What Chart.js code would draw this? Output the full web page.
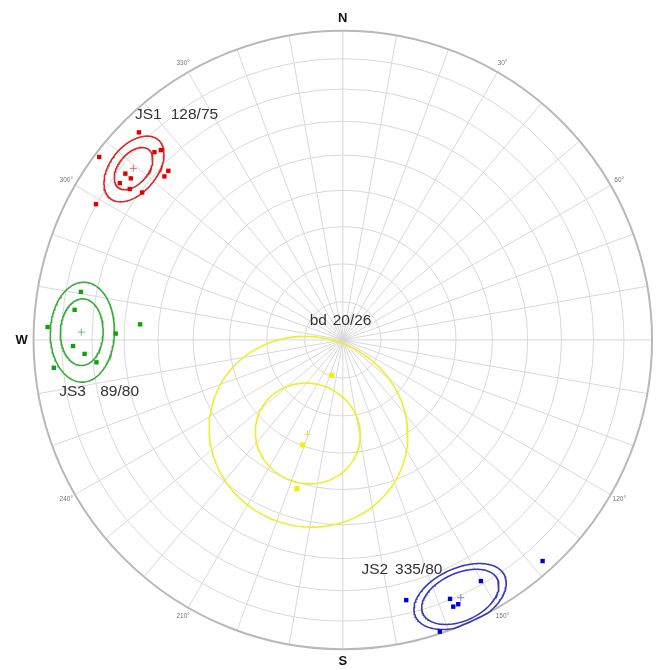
<!DOCTYPE html>
<html>
<head>
<meta charset="utf-8">
<script src="https://cdn.jsdelivr.net/npm/chart.js@4/dist/chart.umd.min.js"></script>
<style>
  html, body { margin: 0; padding: 0; background: #ffffff; }
  #wrap { width: 661px; height: 670px; }
</style>
</head>
<body>
<div id="wrap"><canvas id="net" width="661" height="670"></canvas></div>
<script>
// Joint poles, lower hemisphere, [trend°, plunge°]
const js1Poles = [[315.5, 6.6], [306.9, 1.7], [314.9, 15.1], [316.2, 16.1], [314.1, 22.5], [312.5, 22.8],
                  [307.4, 12.5], [307.3, 14.9], [305.1, 12.9], [305.3, 16.7], [306.3, 20.6], [298.8, 9.8]];
const js2Poles = [[137.9, 4.1], [150.2, 11.1], [166.3, 14.5], [157.5, 10.3], [156.4, 7.5], [157.5, 7.4], [161.6, 0.7]];
const js3Poles = [[280.4, 15.0], [276.4, 13.8], [272.5, 5.0], [274.4, 34.6], [271.6, 27.4], [268.7, 13.8],
                  [266.9, 17.5], [264.8, 21.1], [264.5, 6.8]];
const bdPoles  = [[197.4, 80.3], [200.9, 60.2], [197.2, 48.3]];

// Sets: names, mean plane (dip direction/dip), mean pole and confidence cones (inner, outer half-angle)
const setNames     = ['JS1', 'JS2', 'JS3', 'bd'];
const setPlanes    = ['128/75', '335/80', '89/80', '20/26'];
const meanPoles    = [[309.3, 13.5], [155.4, 9.2], [271.7, 16.5], [200.5, 63.4]];
const coneInner    = [5.0, 8.2, 7.0, 13.5];
const coneOuter    = [7.8, 9.8, 10.5, 25.7];

// Net grid: small circles of plunge, azimuth spokes, azimuth tick labels
const gridPlunges  = [10, 20, 30, 40, 50, 60, 70, 80];
const spokeAzimuths = Array.from({ length: 36 }, (_, i) => i * 10);
const tickAzimuths = [30, 60, 120, 150, 210, 240, 300, 330];
const cardinalNames = ['N', 'W', 'S'];
const cardinalAzimuths = [0, 270, 180];

// Colours per set
const pointColors   = ['#e00000', '#0000d0', '#10a010', '#f0f000'];
const coneColors    = ['#d42a2a', '#3a3ab8', '#3aaa3a', '#eeee30'];
const meanColors    = ['#e07070', '#8080d8', '#70b870', '#e0e060'];
const poleSets      = [js1Poles, js2Poles, js3Poles, bdPoles];

const rad = d => d * Math.PI / 180;
const deg = r => r * 180 / Math.PI;

// Lambert equal-area (Schmidt) projection, primitive radius 1
function project(trend, plunge) {
  const t = rad(trend);
  const r = Math.SQRT2 * Math.sin(rad(90 - plunge) / 2);
  return { x: r * Math.sin(t), y: r * Math.cos(t) };
}

// Outline of a small circle (cone) of half-angle alpha about an axis
function coneOutline(trend, plunge, alpha) {
  const t = rad(trend), p = rad(plunge), a = rad(alpha);
  const ax = [Math.cos(p) * Math.sin(t), Math.cos(p) * Math.cos(t), Math.sin(p)];
  const u = [Math.sin(p) * Math.sin(t), Math.sin(p) * Math.cos(t), -Math.cos(p)];
  const w = [Math.cos(t), -Math.sin(t), 0];
  const out = [];
  for (let i = 0; i <= 180; i++) {
    const f = 2 * Math.PI * i / 180;
    const v = [0, 1, 2].map(k => ax[k] * Math.cos(a) + (u[k] * Math.cos(f) + w[k] * Math.sin(f)) * Math.sin(a));
    if (v[2] < 0) v[2] = 0;
    const n = Math.hypot(v[0], v[1], v[2]);
    const pl = deg(Math.asin(v[2] / n));
    const tr = deg(Math.atan2(v[0], v[1]));
    out.push(project(tr, pl));
  }
  return out;
}

const datasets = [];
// poles on top
poleSets.forEach((set, i) => {
  datasets.push({
    label: setNames[i] + ' poles',
    data: set.map(([tr, pl]) => project(tr, pl)),
    pointStyle: 'rect',
    pointRadius: i === 3 ? 3.6 : 3.1,
    backgroundColor: pointColors[i],
    borderColor: pointColors[i],
    borderWidth: 0,
    showLine: false
  });
});
meanPoles.forEach(([tr, pl], i) => {
  datasets.push({
    label: setNames[i] + ' mean',
    data: [project(tr, pl)],
    pointStyle: 'cross',
    pointRadius: 3.5,
    borderColor: meanColors[i],
    borderWidth: 1,
    showLine: false
  });
});
meanPoles.forEach(([tr, pl], i) => {
  [coneInner[i], coneOuter[i]].forEach(alpha => {
    datasets.push({
      label: setNames[i] + ' cone',
      data: coneOutline(tr, pl, alpha),
      showLine: true,
      pointRadius: 0,
      borderColor: coneColors[i],
      borderWidth: 1.6,
      fill: false,
      tension: 0
    });
  });
});

// Net grid drawn beneath the data, labels above it
const netGrid = {
  id: 'netGrid',
  beforeDatasetsDraw(chart) {
    const { ctx } = chart;
    const xs = chart.scales.x, ys = chart.scales.y;
    const cx = xs.getPixelForValue(0), cy = ys.getPixelForValue(0);
    const R = xs.getPixelForValue(1) - cx;
    ctx.save();
    ctx.strokeStyle = '#d8d8d8';
    ctx.lineWidth = 1;
    spokeAzimuths.forEach(az => {
      ctx.beginPath();
      ctx.moveTo(cx, cy);
      ctx.lineTo(cx + R * Math.sin(rad(az)), cy - R * Math.cos(rad(az)));
      ctx.stroke();
    });
    gridPlunges.forEach(pl => {
      const r = project(0, pl).y * R;
      ctx.beginPath();
      ctx.arc(cx, cy, r, 0, 2 * Math.PI);
      ctx.stroke();
    });
    ctx.strokeStyle = '#b8b8b8';
    ctx.lineWidth = 2;
    ctx.beginPath();
    ctx.arc(cx, cy, R, 0, 2 * Math.PI);
    ctx.stroke();
    ctx.restore();
  },
  afterDatasetsDraw(chart) {
    const { ctx } = chart;
    const xs = chart.scales.x, ys = chart.scales.y;
    const cx = xs.getPixelForValue(0), cy = ys.getPixelForValue(0);
    const R = xs.getPixelForValue(1) - cx;
    const px = u => xs.getPixelForValue(u), py = v => ys.getPixelForValue(v);
    ctx.save();
    ctx.textAlign = 'center';
    ctx.textBaseline = 'middle';
    ctx.fillStyle = '#777777';
    ctx.font = '6.5px "Liberation Sans", Arial, sans-serif';
    tickAzimuths.forEach(az => {
      const rr = R + 10;
      ctx.fillText(az + '°', cx + rr * Math.sin(rad(az)), cy - rr * Math.cos(rad(az)));
    });
    ctx.fillStyle = '#111111';
    ctx.font = 'bold 13px "Liberation Sans", Arial, sans-serif';
    cardinalNames.forEach((name, i) => {
      const az = cardinalAzimuths[i];
      const rr = R + 12;
      ctx.fillText(name, cx + rr * Math.sin(rad(az)), cy - rr * Math.cos(rad(az)));
    });
    // set labels: name and mean plane, anchored in net units
    ctx.fillStyle = '#333333';
    ctx.font = '15.5px "Liberation Sans", Arial, sans-serif';
    ctx.textAlign = 'left';
    const spots = [
      { name: [-0.6720, 0.7271], plane: [-0.5564, 0.7271] },
      { name: [0.0605, -0.7420], plane: [0.1688, -0.7420] },
      { name: [-0.9172, -0.1688], plane: [-0.7844, -0.1688] },
      { name: [-0.1073, 0.0605], plane: [-0.0328, 0.0605] }
    ];
    spots.forEach((s, i) => {
      ctx.fillText(setNames[i], px(s.name[0]), py(s.name[1]));
      ctx.fillText(setPlanes[i], px(s.plane[0]), py(s.plane[1]));
    });
    ctx.restore();
  }
};

new Chart(document.getElementById('net'), {
  type: 'scatter',
  data: { datasets },
  options: {
    responsive: false,
    animation: false,
    events: [],
    layout: { padding: 0 },
    plugins: { legend: { display: false }, tooltip: { enabled: false } },
    scales: {
      x: { type: 'linear', display: false, min: -343 / 314, max: 318 / 314 },
      y: { type: 'linear', display: false, min: -330 / 314, max: 340 / 314 }
    }
  },
  plugins: [netGrid]
});
</script>
</body>
</html>
